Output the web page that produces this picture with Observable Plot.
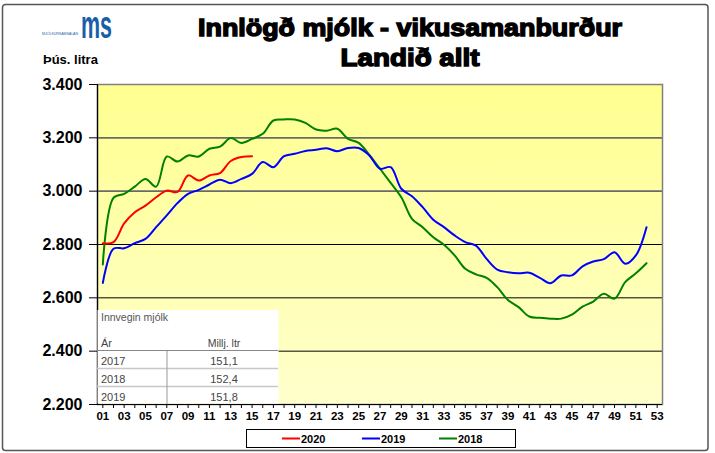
<!DOCTYPE html>
<html><head><meta charset="utf-8">
<script src="https://cdn.jsdelivr.net/npm/d3@7"></script>
<script src="https://cdn.jsdelivr.net/npm/@observablehq/plot@0.6"></script>
<style>
body{margin:0;background:#fff}
#chart{position:relative;width:715px;height:453px}
</style>
</head><body><div id="chart"></div>
<script>
// ---- data ----
const weeks = d3.range(1, 54);
const y2020 = [2805,2809,2879,2921,2946,2977,3002,2997,3059,3040,3059,3068,3113,3128,3131];
const y2019 = [2656,2784,2786,2805,2821,2865,2909,2955,2990,3005,3025,3043,3030,3046,3065,3109,3090,3131,
  3140,3151,3155,3161,3150,3162,3162,3134,3084,3090,3009,2981,2940,
  2893,2865,2834,2809,2796,2746,2706,2696,2692,2694,2675,2655,2684,2684,2718,2736,2745,2771,2728,2759,2865];
const y2018 = [2725,2975,2990,3017,3046,3017,3130,3111,3134,3130,3159,3167,3199,3181,3196,3215,3265,3269,3269,3256,
  3231,3227,3234,3196,3181,3136,3084,3031,2977,2896,2865,2827,2799,2759,2709,2688,2675,2640,2592,2565,
  2530,2525,2522,2522,2537,2567,2586,2615,2597,2659,2692,2730];
const yTicks = [2200,2400,2600,2800,3000,3200,3400];
const seriesNames = ["2020","2019","2018"];
const seriesColors = ["#ff0000","#0000ff","#008000"];
const tableTitle = "Innvegin mjólk";
const tableHead = ["Ár","Millj. ltr"];
const tableYears = ["2017","2018","2019"];
const tableValues = ["151,1","152,4","151,8"];
const titleLines = ["Innlögð mjólk - vikusamanburður","Landið allt"];
const unitLabel = "Þús. litra";

const toRows = (arr, name) => arr.map((v, i) => ({week: weeks[i], value: v, series: name}));
const rows = [...toRows(y2018, "2018"), ...toRows(y2019, "2019"), ...toRows(y2020, "2020")];

const fmtY = d => d3.format(",.0f")(d).replace(",", ".");
const fmtX = d => d % 2 === 1 ? String(d).padStart(2, "0") : "";

const defsMark = () => {
  const defs = d3.create("svg:defs");
  const g = defs.append("linearGradient").attr("id", "bgGrad").attr("x1", 0).attr("y1", 0).attr("x2", 0).attr("y2", 1);
  g.append("stop").attr("offset", "0%").attr("stop-color", "#ffff90");
  g.append("stop").attr("offset", "100%").attr("stop-color", "#ffffcc");
  return defs.node();
};

const FONT = "'Liberation Sans', Arial, sans-serif";

const chart = Plot.plot({
  width: 715, height: 453,
  marginLeft: 97, marginRight: 53, marginTop: 84, marginBottom: 49,
  style: {fontFamily: FONT, background: "transparent", color: "#000"},
  x: {domain: [0.5, 53.5], axis: null},
  y: {domain: [2200, 3400], axis: null},
  color: {domain: seriesNames, range: seriesColors},
  marks: [
    defsMark,
    Plot.frame({fill: "url(#bgGrad)"}),
    Plot.ruleY(yTicks.filter(d => d > 2200 && d < 3000), {stroke: "#000", strokeWidth: 1}),
    Plot.ruleY(yTicks.filter(d => d >= 3000 && d < 3400), {stroke: "#6a6a6a", strokeWidth: 1.6}),
    Plot.frame({stroke: "#808080", strokeWidth: 1.5}),
    Plot.ruleX([0.5], {stroke: "#000", strokeWidth: 1.2}),
    Plot.ruleY([2200], {stroke: "#000", strokeWidth: 1.2}),
    Plot.axisY({ticks: yTicks, label: null, tickSize: 8, tickPadding: 7, tickFormat: fmtY, fontSize: 16, fontWeight: "bold", stroke: "#000"}),
    Plot.axisX({ticks: weeks, label: null, tickSize: 4, tickPadding: 3, tickFormat: fmtX, fontSize: 11.5, fontWeight: "bold", stroke: "#000"}),
    Plot.lineY(rows, {x: "week", y: "value", z: "series", stroke: "series", strokeWidth: 2, curve: "catmull-rom"})
  ]
});

const svg = d3.select(chart);
// table overlay (inserted before lines)
const lineG = svg.selectAll("g[aria-label='line']").node();
const tbl = svg.insert("g", () => lineG).attr("font-family", FONT).attr("text-anchor", "start");
tbl.append("rect").attr("x", 97.5).attr("y", 310).attr("width", 181).attr("height", 93.5).attr("fill", "#fff");
tbl.append("text").attr("x", 101).attr("y", 321).attr("font-size", 10.5).attr("fill", "#555").text(tableTitle);
tbl.append("text").attr("x", 101).attr("y", 347).attr("font-size", 11).attr("fill", "#444").text(tableHead[0]);
tbl.append("text").attr("x", 224).attr("y", 347).attr("font-size", 10.5).attr("fill", "#444").attr("text-anchor", "middle").text(tableHead[1]);
tbl.append("line").attr("x1", 97).attr("x2", 278).attr("y1", 350.5).attr("y2", 350.5).attr("stroke", "#888").attr("stroke-width", 1.2);
[368.5, 386.5].forEach(y => tbl.append("line").attr("x1", 97).attr("x2", 278).attr("y1", y).attr("y2", y).attr("stroke", "#c8c8c8").attr("stroke-width", 1.5));
tbl.append("line").attr("x1", 167).attr("x2", 167).attr("y1", 351).attr("y2", 404).attr("stroke", "#aaa").attr("stroke-width", 1.2);
tableYears.forEach((yr, i) => {
  tbl.append("text").attr("x", 101).attr("y", 365 + i * 18).attr("font-size", 11).attr("fill", "#444").text(yr);
  tbl.append("text").attr("x", 224).attr("y", 365 + i * 18).attr("font-size", 11).attr("fill", "#444").attr("text-anchor", "middle").text(tableValues[i]);
});

// outer border
svg.append("rect").attr("x", 2.5).attr("y", 4.5).attr("width", 705.5).attr("height", 446).attr("rx", 3)
  .attr("fill", "none").attr("stroke", "#555").attr("stroke-width", 1.5);

// titles
const tg = svg.append("g").attr("font-family", FONT).attr("font-weight", "bold")
  .attr("fill", "#000").attr("stroke", "#000").attr("stroke-width", 1.4).attr("text-anchor", "middle");
tg.append("text").attr("x", 410).attr("y", 36).attr("font-size", 24).attr("textLength", 424).attr("lengthAdjust", "spacingAndGlyphs").text(titleLines[0]);
tg.append("text").attr("x", 410).attr("y", 66).attr("font-size", 24).attr("textLength", 139).attr("lengthAdjust", "spacingAndGlyphs").text(titleLines[1]);

svg.append("text").attr("x", 43).attr("y", 64).attr("font-family", FONT).attr("text-anchor", "start")
  .attr("font-weight", "bold").attr("font-size", 13).attr("fill", "#000").text(unitLabel);

// logo
const lg = svg.append("g").attr("fill", "#1a5ea8").attr("font-family", FONT).attr("text-anchor", "start");
lg.append("text").attr("x", 81).attr("y", 38).attr("font-size", 38).attr("font-weight", "bold")
  .attr("textLength", 31).attr("lengthAdjust", "spacingAndGlyphs").text("ms");
lg.append("text").attr("x", 42).attr("y", 35).attr("font-size", 4).attr("textLength", 36).attr("lengthAdjust", "spacingAndGlyphs").text("MJÓLKURSAMSALAN");

// legend
const leg = svg.append("g").attr("font-family", FONT).attr("text-anchor", "start");
leg.append("rect").attr("x", 246.5).attr("y", 429.5).attr("width", 269).attr("height", 18).attr("fill", "#fff").attr("stroke", "#000");
const legX = [282, 362, 439];
seriesNames.forEach((n, i) => {
  leg.append("line").attr("x1", legX[i]).attr("x2", legX[i] + 18).attr("y1", 438.5).attr("y2", 438.5).attr("stroke", seriesColors[i]).attr("stroke-width", 2);
  leg.append("text").attr("x", legX[i] + 19).attr("y", 442.5).attr("font-size", 11).attr("font-weight", "bold").text(n);
});

document.getElementById("chart").appendChild(chart);
</script>
</body></html>
